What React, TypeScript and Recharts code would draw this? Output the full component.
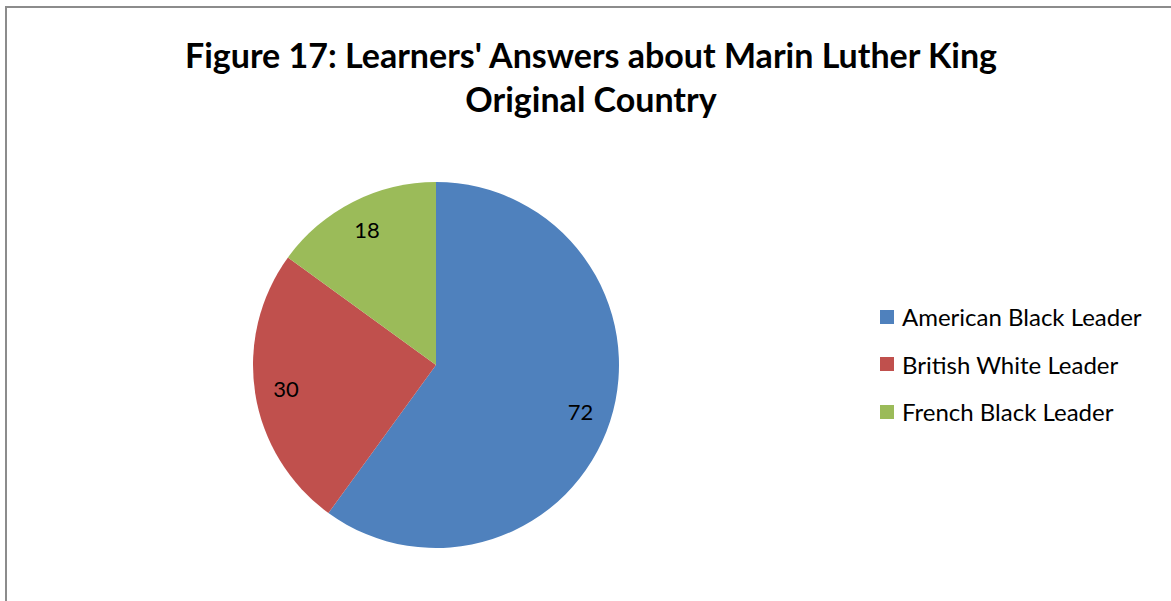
import { PieChart, Pie, Cell, Legend } from 'recharts';

const categories = ['American Black Leader', 'British White Leader', 'French Black Leader'];
const values = [72, 30, 18];
const colors = ['#4f81bd', '#c0504d', '#9bbb59'];

const data = categories.map((name, i) => ({ name, value: values[i] }));

const RADIAN = Math.PI / 180;
const FONT = 'Lato, "Open Sans", sans-serif';

const renderLabel = ({ cx, cy, midAngle, outerRadius, value }: any) => {
  const r = outerRadius * 0.83;
  const x = cx + r * Math.cos(-midAngle * RADIAN);
  const y = cy + r * Math.sin(-midAngle * RADIAN);
  return (
    <text x={x} y={y} fill="#000" fontSize={22} fontFamily={FONT} textAnchor="middle" dominantBaseline="central">
      {value}
    </text>
  );
};

const renderLegend = () => (
  <div style={{ fontFamily: FONT, fontSize: 24, color: '#000' }}>
    {data.map((d, i) => (
      <div key={d.name} style={{ display: 'flex', alignItems: 'center', height: 47.5 }}>
        <div style={{ width: 14, height: 14, backgroundColor: colors[i], marginRight: 8 }}></div>
        <span>{d.name}</span>
      </div>
    ))}
  </div>
);

export default function App() {
  return (
    <div style={{ position: 'absolute', left: 0, top: 0, width: 1171, height: 601, overflow: 'hidden', background: '#fff' }}>
      <div style={{ position: 'absolute', left: 5, top: 6, width: 1200, height: 640, border: '2px solid #8c8c8c' }}></div>
      <div
        style={{
          position: 'absolute',
          left: 0,
          top: 33,
          width: 1182,
          textAlign: 'center',
          fontFamily: FONT,
          fontWeight: 700,
          fontSize: 34,
          lineHeight: '44px',
          color: '#000',
        }}
      >
        Figure 17: Learners' Answers about Marin Luther King
        <br />
        Original Country
      </div>
      <div style={{ position: 'absolute', left: 0, top: 0 }}>
        <PieChart width={1171} height={601}>
          <Pie
            data={data}
            dataKey="value"
            nameKey="name"
            cx={431}
            cy={360}
            outerRadius={183}
            startAngle={90}
            endAngle={-270}
            stroke="none"
            labelLine={false}
            label={renderLabel}
            isAnimationActive={false}
          >
            {data.map((entry, index) => (
              <Cell key={`cell-${index}`} fill={colors[index]} />
            ))}
          </Pie>
          <Legend content={renderLegend} wrapperStyle={{ left: 880, top: 293, width: 290 }} />
        </PieChart>
      </div>
    </div>
  );
}
